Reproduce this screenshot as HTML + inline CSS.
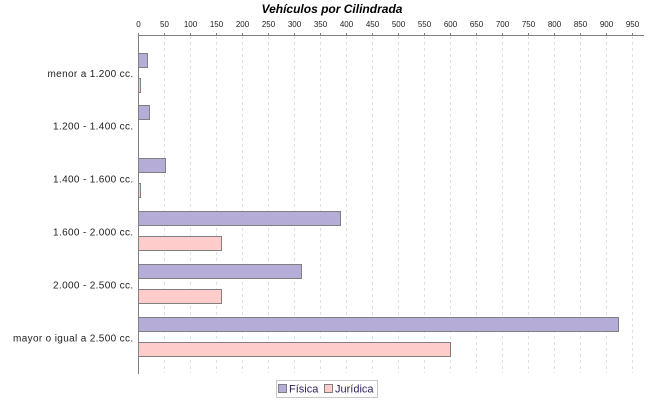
<!DOCTYPE html>
<html><head><meta charset="utf-8"><style>
html,body{margin:0;padding:0;background:#fff;}
svg{display:block;}
text{font-family:"Liberation Sans",sans-serif;}
</style></head><body>
<svg width="650" height="400" viewBox="0 0 650 400" xmlns="http://www.w3.org/2000/svg">
<rect width="650" height="400" fill="#fff"/>
<text x="332" y="13" text-anchor="middle" font-size="12" font-weight="bold" font-style="italic" fill="#000">Vehículos por Cilindrada</text>
<g stroke="#e0e0e0" stroke-width="1" stroke-dasharray="3,3">
<line x1="164.5" y1="36" x2="164.5" y2="373"/>
<line x1="190.5" y1="36" x2="190.5" y2="373"/>
<line x1="216.5" y1="36" x2="216.5" y2="373"/>
<line x1="242.5" y1="36" x2="242.5" y2="373"/>
<line x1="268.5" y1="36" x2="268.5" y2="373"/>
<line x1="294.5" y1="36" x2="294.5" y2="373"/>
<line x1="320.5" y1="36" x2="320.5" y2="373"/>
<line x1="346.5" y1="36" x2="346.5" y2="373"/>
<line x1="372.5" y1="36" x2="372.5" y2="373"/>
<line x1="398.5" y1="36" x2="398.5" y2="373"/>
<line x1="424.5" y1="36" x2="424.5" y2="373"/>
<line x1="450.5" y1="36" x2="450.5" y2="373"/>
<line x1="476.5" y1="36" x2="476.5" y2="373"/>
<line x1="502.5" y1="36" x2="502.5" y2="373"/>
<line x1="528.5" y1="36" x2="528.5" y2="373"/>
<line x1="554.5" y1="36" x2="554.5" y2="373"/>
<line x1="580.5" y1="36" x2="580.5" y2="373"/>
<line x1="606.5" y1="36" x2="606.5" y2="373"/>
<line x1="632.5" y1="36" x2="632.5" y2="373"/>
</g>
<g stroke="#808080" stroke-width="1">
<line x1="138" y1="35.5" x2="644" y2="35.5"/>
<line x1="138.5" y1="35" x2="138.5" y2="374"/>
<line x1="138.5" y1="33" x2="138.5" y2="35"/>
<line x1="164.5" y1="33" x2="164.5" y2="35"/>
<line x1="190.5" y1="33" x2="190.5" y2="35"/>
<line x1="216.5" y1="33" x2="216.5" y2="35"/>
<line x1="242.5" y1="33" x2="242.5" y2="35"/>
<line x1="268.5" y1="33" x2="268.5" y2="35"/>
<line x1="294.5" y1="33" x2="294.5" y2="35"/>
<line x1="320.5" y1="33" x2="320.5" y2="35"/>
<line x1="346.5" y1="33" x2="346.5" y2="35"/>
<line x1="372.5" y1="33" x2="372.5" y2="35"/>
<line x1="398.5" y1="33" x2="398.5" y2="35"/>
<line x1="424.5" y1="33" x2="424.5" y2="35"/>
<line x1="450.5" y1="33" x2="450.5" y2="35"/>
<line x1="476.5" y1="33" x2="476.5" y2="35"/>
<line x1="502.5" y1="33" x2="502.5" y2="35"/>
<line x1="528.5" y1="33" x2="528.5" y2="35"/>
<line x1="554.5" y1="33" x2="554.5" y2="35"/>
<line x1="580.5" y1="33" x2="580.5" y2="35"/>
<line x1="606.5" y1="33" x2="606.5" y2="35"/>
<line x1="632.5" y1="33" x2="632.5" y2="35"/>
</g>
<g font-size="8" fill="#222" text-anchor="middle">
<text x="138.5" y="27">0</text>
<text x="164.5" y="27">50</text>
<text x="190.5" y="27">100</text>
<text x="216.5" y="27">150</text>
<text x="242.5" y="27">200</text>
<text x="268.5" y="27">250</text>
<text x="294.5" y="27">300</text>
<text x="320.5" y="27">350</text>
<text x="346.5" y="27">400</text>
<text x="372.5" y="27">450</text>
<text x="398.5" y="27">500</text>
<text x="424.5" y="27">550</text>
<text x="450.5" y="27">600</text>
<text x="476.5" y="27">650</text>
<text x="502.5" y="27">700</text>
<text x="528.5" y="27">750</text>
<text x="554.5" y="27">800</text>
<text x="580.5" y="27">850</text>
<text x="606.5" y="27">900</text>
<text x="632.5" y="27">950</text>
</g>
<g stroke="#808080" stroke-width="1">
<rect x="138.5" y="53.5" width="9" height="14" fill="#b6acd8"/>
<rect x="138.5" y="78.5" width="2" height="14" fill="#ffcccc"/>
<rect x="138.5" y="105.5" width="11" height="14" fill="#b6acd8"/>
<rect x="138.5" y="158.5" width="27" height="14" fill="#b6acd8"/>
<rect x="138.5" y="183.5" width="2" height="14" fill="#ffcccc"/>
<rect x="138.5" y="211.5" width="202" height="14" fill="#b6acd8"/>
<rect x="138.5" y="236.5" width="83" height="14" fill="#ffcccc"/>
<rect x="138.5" y="264.5" width="163" height="14" fill="#b6acd8"/>
<rect x="138.5" y="289.5" width="83" height="14" fill="#ffcccc"/>
<rect x="138.5" y="317.5" width="480" height="14" fill="#b6acd8"/>
<rect x="138.5" y="342.5" width="312" height="14" fill="#ffcccc"/>
</g>
<g font-size="10" fill="#222" text-anchor="end" letter-spacing="0.35">
<text x="133.5" y="77">menor a 1.200 cc.</text>
<text x="133.5" y="129.5">1.200 - 1.400 cc.</text>
<text x="133.5" y="182.5">1.400 - 1.600 cc.</text>
<text x="133.5" y="235.5">1.600 - 2.000 cc.</text>
<text x="133.5" y="288.5">2.000 - 2.500 cc.</text>
<text x="133.5" y="341.5">mayor o igual a 2.500 cc.</text>
</g>
<rect x="276.5" y="380.5" width="101" height="17" fill="#fff" stroke="#c8c8c8" stroke-width="1"/>
<rect x="278.5" y="384.5" width="8" height="8" fill="#b6acd8" stroke="#808080" stroke-width="1"/>
<text x="289" y="392.5" font-size="11" fill="#302060">Física</text>
<rect x="324.5" y="384.5" width="8" height="8" fill="#ffcccc" stroke="#808080" stroke-width="1"/>
<text x="335" y="392.5" font-size="11" fill="#302060">Jurídica</text>
</svg>
</body></html>
